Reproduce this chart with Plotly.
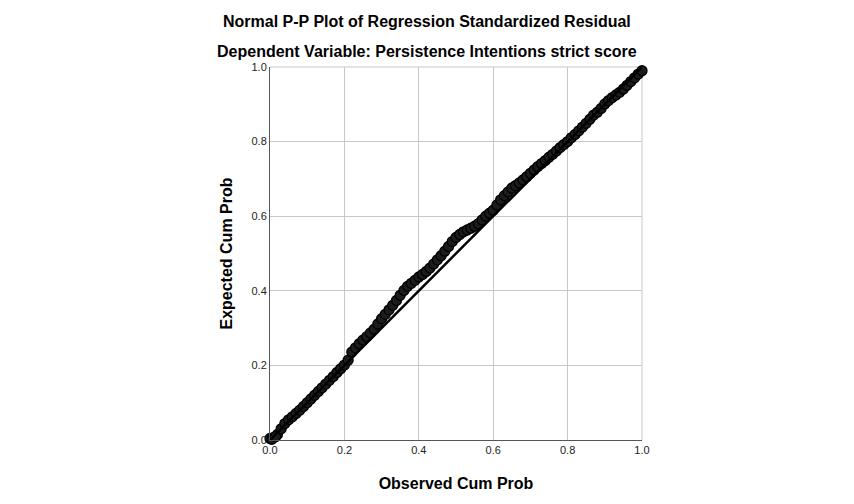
import plotly.graph_objects as go

# Observed cumulative probability (x) and expected cumulative probability (y)
observed = [0.000, 0.010, 0.020, 0.030, 0.040, 0.050, 0.060, 0.070, 0.080, 0.090,
            0.100, 0.110, 0.120, 0.130, 0.140, 0.150, 0.160, 0.170, 0.180, 0.190,
            0.200, 0.210, 0.220, 0.230, 0.240, 0.250, 0.260, 0.270, 0.280, 0.290,
            0.300, 0.310, 0.320, 0.330, 0.340, 0.350, 0.360, 0.370, 0.380, 0.390,
            0.400, 0.410, 0.420, 0.430, 0.440, 0.450, 0.460, 0.470, 0.480, 0.490,
            0.500, 0.510, 0.520, 0.530, 0.540, 0.550, 0.560, 0.570, 0.580, 0.590,
            0.600, 0.610, 0.620, 0.630, 0.640, 0.650, 0.660, 0.670, 0.680, 0.690,
            0.700, 0.710, 0.720, 0.730, 0.740, 0.750, 0.760, 0.770, 0.780, 0.790,
            0.800, 0.810, 0.820, 0.830, 0.840, 0.850, 0.860, 0.870, 0.880, 0.890,
            0.900, 0.910, 0.920, 0.930, 0.940, 0.950, 0.960, 0.970, 0.980, 0.990,
            1.000, 0.005, 0.015]
expected = [0.004, 0.007, 0.015, 0.030, 0.044, 0.054, 0.062, 0.071, 0.080, 0.090,
            0.100, 0.110, 0.120, 0.130, 0.140, 0.150, 0.160, 0.170, 0.181, 0.191,
            0.201, 0.214, 0.236, 0.247, 0.258, 0.268, 0.277, 0.287, 0.297, 0.311,
            0.325, 0.337, 0.349, 0.361, 0.374, 0.388, 0.401, 0.412, 0.420, 0.428,
            0.437, 0.444, 0.452, 0.461, 0.472, 0.483, 0.494, 0.506, 0.519, 0.532,
            0.543, 0.551, 0.558, 0.563, 0.568, 0.573, 0.580, 0.590, 0.600, 0.608,
            0.616, 0.630, 0.644, 0.655, 0.665, 0.675, 0.682, 0.689, 0.697, 0.706,
            0.715, 0.724, 0.733, 0.741, 0.749, 0.758, 0.766, 0.775, 0.784, 0.792,
            0.800, 0.810, 0.819, 0.829, 0.839, 0.849, 0.860, 0.871, 0.879, 0.889,
            0.901, 0.910, 0.918, 0.925, 0.932, 0.941, 0.951, 0.961, 0.971, 0.981,
            0.990, 0.002, 0.009]

# reference diagonal
diag = [0.0, 1.0]
ticks = [0.0, 0.2, 0.4, 0.6, 0.8, 1.0]

FONT = "Arial, Liberation Sans, sans-serif"

# the page body adds an 8px offset, so margins are trimmed by that
W, H = 854, 504
L, T, PW, PH = 262, 59, 372, 373

fig = go.Figure()

fig.add_trace(go.Scatter(
    x=observed, y=expected,
    mode='markers',
    marker=dict(symbol='circle', size=10, color='#1c1c1c',
                line=dict(color='#000000', width=1.3)),
    showlegend=False, cliponaxis=False
))

fig.add_trace(go.Scatter(
    x=diag, y=diag,
    mode='lines',
    line=dict(color='black', width=2.5),
    showlegend=False
))

titles = ['<b>Normal P-P Plot of Regression Standardized Residual</b>',
          '<b>Dependent Variable: Persistence Intentions strict score</b>']
title_rows = [14, 44]  # pixel rows inside the figure

fig.update_layout(
    width=W, height=H,
    autosize=False,
    paper_bgcolor='white', plot_bgcolor='white',
    margin=dict(l=L, r=W - L - PW, t=T, b=H - T - PH),
    font=dict(family=FONT, color='black'),
    annotations=[
        dict(text=t, x=(W / 2 - 8 - L) / PW, y=(T + PH - r) / PH,
             xref='paper', yref='paper', showarrow=False,
             xanchor='center', yanchor='middle', font=dict(size=16))
        for t, r in zip(titles, title_rows)
    ],
)

fig.update_xaxes(
    range=[0, 1], tickvals=ticks, tickformat='.1f',
    showgrid=True, gridcolor='#c8c8c8', gridwidth=1,
    showline=True, linecolor='#555555', linewidth=1,
    zeroline=False, ticks='', tickfont=dict(size=11, color='#222222'),
    title=dict(text='<b>Observed Cum Prob</b>', font=dict(size=16), standoff=22),
)
fig.update_yaxes(
    range=[0, 1], tickvals=ticks, tickformat='.1f',
    showgrid=True, gridcolor='#c8c8c8', gridwidth=1,
    showline=True, linecolor='#555555', linewidth=1,
    zeroline=False, ticks='', tickfont=dict(size=11, color='#222222'),
    title=dict(text='<b>Expected Cum Prob</b>', font=dict(size=16), standoff=14),
)

# light frame on top and right edges
fig.add_shape(type='line', xref='paper', yref='paper', x0=0, x1=1, y0=1, y1=1,
              line=dict(color='#c8c8c8', width=1), layer='below')
fig.add_shape(type='line', xref='paper', yref='paper', x0=1, x1=1, y0=0, y1=1,
              line=dict(color='#c8c8c8', width=1), layer='below')

fig.write_html("out.html")
